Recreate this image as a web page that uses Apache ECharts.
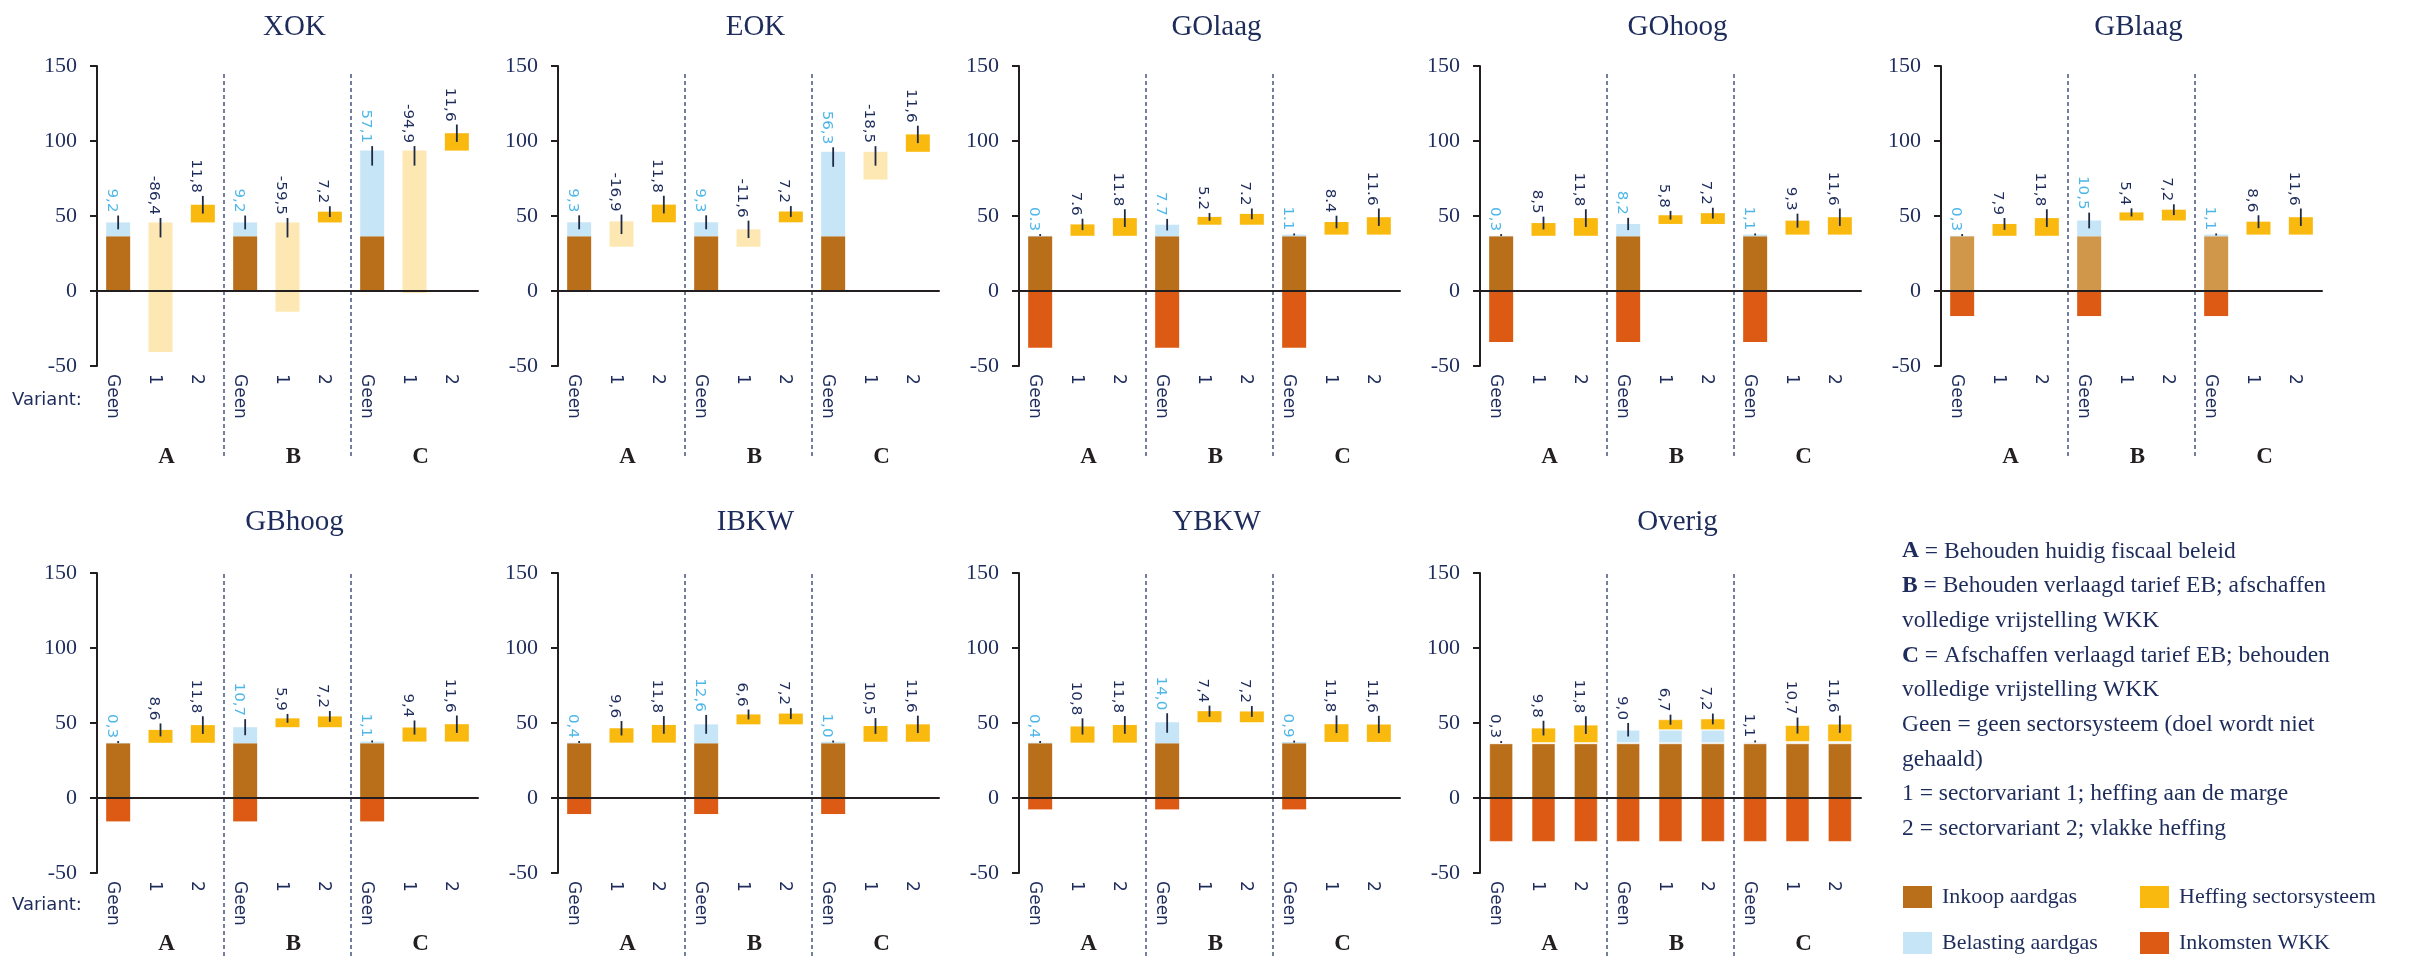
<!DOCTYPE html>
<html>
<head>
<meta charset="utf-8">
<script src="https://cdn.jsdelivr.net/npm/echarts@6/dist/echarts.min.js"></script>
<style>
  html, body { margin: 0; padding: 0; background: #ffffff; }
  #chart { width: 2428px; height: 957px; }
</style>
</head>
<body>
<div id="chart"></div>
<script>
// ---- Data -------------------------------------------------------------
const panels = ['XOK', 'EOK', 'GOlaag', 'GOhoog', 'GBlaag', 'GBhoog', 'IBKW', 'YBKW', 'Overig'];
const groups = ['A', 'B', 'C'];
const variants = ['Geen', '1', '2'];
const yTicks = [-50, 0, 50, 100, 150];
const decimalMark = [',', ',', '.', ',', ',', ',', ',', ',', ','];

// "Geen" bar per panel, per group A / B / C
const inkoopGeen = [
  [36.5, 36.5, 36.5], [36.5, 36.5, 36.5], [36.5, 36.5, 36.5],
  [36.5, 36.5, 36.5], [36.5, 36.5, 36.5], [36.5, 36.5, 36.5],
  [36.5, 36.5, 36.5], [36.5, 36.5, 36.5], [36.5, 36.5, 36.5]
];
const belastingGeen = [
  [9.2, 9.2, 57.1], [9.3, 9.3, 56.3], [0.3, 7.7, 1.1],
  [0.3, 8.2, 1.1], [0.3, 10.5, 1.1], [0.3, 10.7, 1.1],
  [0.4, 12.6, 1.0], [0.4, 14.0, 0.9], [0.3, 9.0, 1.1]
];
const wkkGeen = [
  [0, 0, 0], [0, 0, 0], [-37.8, -37.8, -37.8],
  [-34.0, -34.0, -34.0], [-16.7, -16.7, -16.7], [-15.6, -15.6, -15.6],
  [-10.7, -10.7, -10.7], [-7.6, -7.6, -7.6], [-29.3, -29.3, -29.3]
];

// Heffing sectorsysteem for sector variants 1 and 2
const heffing1 = [
  [-86.4, -59.5, -94.9], [-16.9, -11.6, -18.5], [7.6, 5.2, 8.4],
  [8.5, 5.8, 9.3], [7.9, 5.4, 8.6], [8.6, 5.9, 9.4],
  [9.6, 6.6, 10.5], [10.8, 7.4, 11.8], [9.8, 6.7, 10.7]
];
const heffing2 = [
  [11.8, 7.2, 11.6], [11.8, 7.2, 11.6], [11.8, 7.2, 11.6],
  [11.8, 7.2, 11.6], [11.8, 7.2, 11.6], [11.8, 7.2, 11.6],
  [11.8, 7.2, 11.6], [11.8, 7.2, 11.6], [11.8, 7.2, 11.6]
];
// Level at which each heffing block starts
const start1 = [
  [45.7, 45.7, 93.6], [46.4, 41.1, 92.8], [36.8, 44.2, 37.6],
  [36.8, 44.7, 37.6], [36.8, 47.0, 37.6], [36.8, 47.2, 37.6],
  [36.9, 49.1, 37.5], [36.9, 50.5, 37.4], [36.8, 45.5, 37.6]
];
const start2 = [
  [45.7, 45.7, 93.6], [45.8, 45.8, 92.8], [36.8, 44.2, 37.6],
  [36.8, 44.7, 37.6], [36.8, 47.0, 37.6], [36.8, 47.2, 37.6],
  [36.9, 49.1, 37.5], [36.9, 50.5, 37.4], [36.8, 45.5, 37.6]
];

// "Overig" keeps gas purchase, tax and CHP income under the variants too
const overigVarInkoop = [36.5, 36.5, 36.5];
const overigVarBelasting = [0.3, 9.0, 1.1];
const overigVarWkk = [-29.3, -29.3, -29.3];

const legendLeft = ['Inkoop aardgas', 'Belasting aardgas'];
const legendRight = ['Heffing sectorsysteem', 'Inkomsten WKK'];
const noteLines = [
  '{b|A} = Behouden huidig fiscaal beleid',
  '{b|B} = Behouden verlaagd tarief EB; afschaffen',
  'volledige vrijstelling WKK',
  '{b|C} = Afschaffen verlaagd tarief EB; behouden',
  'volledige vrijstelling WKK',
  'Geen = geen sectorsysteem (doel wordt niet',
  'gehaald)',
  '1 = sectorvariant 1; heffing aan de marge',
  '2 = sectorvariant 2; vlakke heffing'
];

// ---- Styling & layout ---------------------------------------------------
const BROWN = '#b96f1a', BROWN_LIGHT = '#d0964a', SKY = '#c6e6f7';
const GOLD = '#f9b90f', GOLD_PALE = '#fde8b3', RUST = '#dc5a13';
const NAVY = '#1e2c5c', INK = '#231f20', CYAN = '#4fb7e8';
const SERIF = '"Liberation Serif", "DejaVu Serif", serif';
const SANS = '"DejaVu Sans", Verdana, sans-serif';
const BAR_W = 24;

const colX = [97, 558, 1019, 1480, 1941];
const gridW = 381, gridH = 300;
const rowLayout = [
  { top: 66, titleY: 27, groupOffset: 72, variantY: 402, sepTop: 8, sepBottom: 93 },
  { top: 573, titleY: 522, groupOffset: 52, variantY: 907, sepTop: 1, sepBottom: 84 }
];

const cats = [];
groups.forEach(g => variants.forEach(v => cats.push(g + '|' + v)));

function buildPanel(p) {
  const ink = [], bel = [], wkk = [], hef = [], lab = [];
  groups.forEach((g, gi) => {
    const i0 = gi * 3;
    ink.push(inkoopGeen[p][gi]);
    bel.push(belastingGeen[p][gi]);
    wkk.push(wkkGeen[p][gi] || null);
    lab.push([i0, inkoopGeen[p][gi] + belastingGeen[p][gi], belastingGeen[p][gi], p === 8 ? 1 : 0]);
    [heffing1, heffing2].forEach((H, k) => {
      const idx = i0 + k + 1;
      const s = (k === 0 ? start1 : start2)[p][gi];
      const v = H[p][gi];
      if (panels[p] === 'Overig') {
        ink.push(overigVarInkoop[gi]);
        bel.push(overigVarBelasting[gi]);
        wkk.push(overigVarWkk[gi]);
      } else {
        ink.push(null); bel.push(null); wkk.push(null);
      }
      hef.push([idx, s, v]);
      lab.push([idx, s + Math.max(v, 0), v, 1]);
    });
  });
  return { ink, bel, wkk, hef, lab };
}

const option = {
  animation: false,
  backgroundColor: '#ffffff',
  title: [], grid: [], xAxis: [], yAxis: [], series: [],
  legend: [],
  graphic: []
};

panels.forEach((name, p) => {
  const row = p < 5 ? 0 : 1;
  const col = p < 5 ? p : p - 5;
  const R = rowLayout[row];
  const left = colX[col];
  const d = buildPanel(p);
  const edge = name === 'Overig' ? { borderColor: 'rgba(255,255,255,0.55)', borderWidth: 1 } : {};
  const xBase = p * 3;

  option.title.push({
    text: name, left: left + gridW / 2 + 7, top: R.titleY,
    textAlign: 'center', textVerticalAlign: 'middle', padding: 0,
    textStyle: { fontFamily: SERIF, fontSize: 29, fontWeight: 'normal', color: NAVY }
  });

  option.grid.push({ left, top: R.top, width: gridW, height: gridH, containLabel: false, outerBoundsMode: 'none' });

  // variant labels under each bar
  option.xAxis.push({
    type: 'category', gridIndex: p, data: cats, position: 'bottom',
    axisLine: { show: false, onZero: false }, axisTick: { show: false }, splitLine: { show: false },
    axisLabel: {
      interval: 0, rotate: -90, margin: 8, align: 'left', verticalAlign: 'top', lineHeight: 12,
      fontFamily: SANS, fontSize: 17, color: NAVY,
      formatter: v => v.split('|')[1]
    }
  });
  // zero line
  option.xAxis.push({
    type: 'category', gridIndex: p, data: cats, position: 'bottom', z: 10,
    axisLine: { show: true, onZero: true, lineStyle: { color: INK, width: 2 } },
    axisTick: { show: false }, axisLabel: { show: false }, splitLine: { show: false }
  });
  // A / B / C group labels
  option.xAxis.push({
    type: 'category', gridIndex: p, data: groups, position: 'bottom', offset: R.groupOffset,
    axisLine: { show: false, onZero: false }, axisTick: { show: false }, splitLine: { show: false },
    axisLabel: {
      interval: 0, margin: 8, padding: [0, 0, 0, 12],
      fontFamily: SERIF, fontSize: 23, fontWeight: 'bold', color: INK
    }
  });

  option.yAxis.push({
    type: 'value', gridIndex: p,
    min: yTicks[0], max: yTicks[yTicks.length - 1], interval: yTicks[1] - yTicks[0],
    axisLine: { show: true, lineStyle: { color: INK, width: 2 } },
    axisTick: { show: true, length: 7, lineStyle: { color: INK, width: 2 } },
    splitLine: { show: false },
    axisLabel: { fontFamily: SERIF, fontSize: 22, color: NAVY, margin: 20 }
  });

  const stack = 'stack' + p;
  option.series.push({
    name: 'Inkoop aardgas', type: 'bar', xAxisIndex: xBase, yAxisIndex: p, stack,
    barWidth: BAR_W, data: d.ink,
    itemStyle: Object.assign({ color: name === 'GBlaag' ? BROWN_LIGHT : BROWN }, edge)
  });
  option.series.push({
    name: 'Belasting aardgas', type: 'bar', xAxisIndex: xBase, yAxisIndex: p, stack,
    barWidth: BAR_W, data: d.bel,
    itemStyle: Object.assign({ color: SKY }, edge)
  });
  option.series.push({
    name: 'Inkomsten WKK', type: 'bar', xAxisIndex: xBase, yAxisIndex: p, stack,
    barWidth: BAR_W, data: d.wkk,
    itemStyle: Object.assign({ color: RUST }, edge)
  });
  option.series.push({
    name: 'Heffing sectorsysteem', type: 'custom', xAxisIndex: xBase, yAxisIndex: p,
    itemStyle: { color: GOLD },
    encode: { x: 0, y: [1, 2] },
    data: d.hef,
    renderItem: (params, api) => {
      const idx = api.value(0), s = api.value(1), v = api.value(2);
      const a = api.coord([idx, s]), b = api.coord([idx, s + v]);
      return {
        type: 'rect',
        shape: { x: a[0] - BAR_W / 2, y: Math.min(a[1], b[1]), width: BAR_W, height: Math.abs(b[1] - a[1]) },
        style: Object.assign({ fill: v < 0 ? GOLD_PALE : GOLD },
          name === 'Overig' ? { stroke: 'rgba(255,255,255,0.55)', lineWidth: 1 } : {})
      };
    }
  });
  // value labels with their leader ticks
  option.series.push({
    name: 'labels', type: 'custom', xAxisIndex: xBase, yAxisIndex: p, z: 5,
    encode: { x: 0, y: 1 },
    data: d.lab,
    renderItem: (params, api) => {
      const idx = api.value(0), top = api.value(1), v = api.value(2), kind = api.value(3);
      const half = Math.min(Math.abs(v) / 2, 10);
      const len = Math.max(Math.min(Math.abs(v), 13), 1.3);
      const pb = api.coord([idx, top - half]);
      const pt = api.coord([idx, top - half + len]);
      const txt = v.toFixed(1).replace('.', decimalMark[p]);
      return {
        type: 'group',
        children: [
          { type: 'line', shape: { x1: pb[0], y1: pb[1], x2: pt[0], y2: pt[1] },
            style: { stroke: '#1f2a44', lineWidth: 1.8 } },
          { type: 'text', x: pt[0] - 7, y: pt[1] - 3, rotation: -Math.PI / 2, scaleX: 1.12,
            style: { text: txt, fill: kind === 0 ? CYAN : NAVY,
                     font: '13.5px ' + SANS, align: 'right', verticalAlign: 'middle' } }
        ]
      };
    }
  });
  // dashed separators between groups A | B | C
  option.series.push({
    name: 'separators', type: 'custom', xAxisIndex: xBase, yAxisIndex: p, z: 1,
    encode: { x: 0, y: 1 },
    data: groups.slice(1).map((g, i) => [(i + 1) * variants.length, 0]),
    renderItem: (params, api) => {
      const idx = api.value(0);
      const hi = api.coord([idx, yTicks[yTicks.length - 1]]);
      const lo = api.coord([idx, yTicks[0]]);
      const x = hi[0] - api.size([1, 0])[0] / 2;
      return {
        type: 'line',
        shape: { x1: x, y1: hi[1] + R.sepTop, x2: x, y2: lo[1] + R.sepBottom },
        style: { stroke: '#2b3a6b', lineWidth: 1.3, lineDash: [4, 3] }
      };
    }
  });
});

// "Variant:" caption at the start of each row
rowLayout.forEach(R => {
  option.graphic.push({
    type: 'text', left: 12, top: R.variantY - 11,
    style: { text: 'Variant:', font: '18px ' + SANS, fill: NAVY }
  });
});

// Explanation block
const noteRich = { b: { fontFamily: SERIF, fontSize: 23.5, fontWeight: 'bold', fill: NAVY, lineHeight: 34.7 } };
option.graphic.push({
  type: 'text', left: 1902, top: 534,
  style: { text: noteLines.join('\n'), font: '23.5px ' + SERIF, fill: NAVY, lineHeight: 34.7, rich: noteRich }
});

const legendCommon = {
  orient: 'vertical', top: 886, itemWidth: 29, itemHeight: 22, itemGap: 24,
  icon: 'rect', padding: 0, selectedMode: false,
  formatter: n => '{t|' + n + '}',
  textStyle: { rich: { t: { fontFamily: SERIF, fontSize: 22, color: NAVY, lineHeight: 22, padding: [0, 0, 0, 5] } } }
};
option.legend.push(Object.assign({ data: legendLeft, left: 1903 }, legendCommon));
option.legend.push(Object.assign({ data: legendRight, left: 2140 }, legendCommon));

const chart = echarts.init(document.getElementById('chart'), null, { renderer: 'canvas' });
chart.setOption(option);
</script>
</body>
</html>
